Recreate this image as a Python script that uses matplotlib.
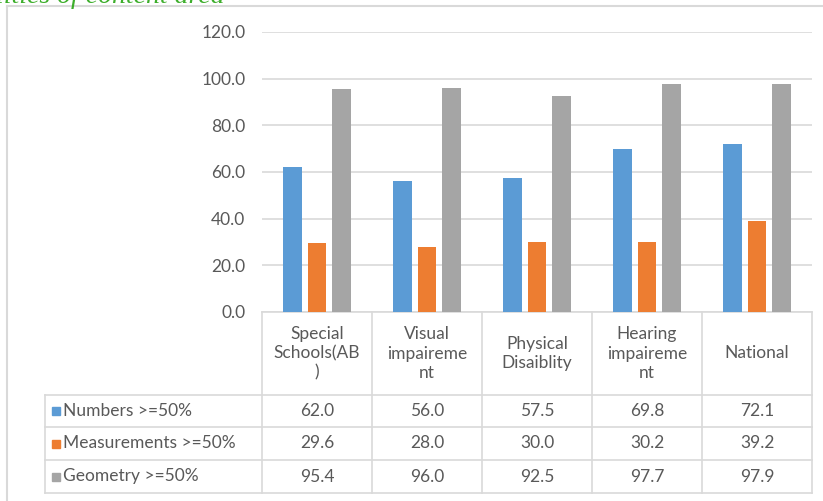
import numpy as np
import matplotlib.pyplot as plt
from matplotlib.lines import Line2D
from matplotlib.patches import Rectangle

# data
categories = ["Special Schools(AB)", "Visual impairement", "Physical Disaiblity",
              "Hearing impairement", "National"]
header_labels = ["Special\nSchools(AB\n)", "Visual\nimpaireme\nnt", "Physical\nDisaiblity",
                 "Hearing\nimpaireme\nnt", "National"]
series_names = ["Numbers >=50%", "Measurements >=50%", "Geometry >=50%"]
numbers = [62.0, 56.0, 57.5, 69.8, 72.1]
measurements = [29.6, 28.0, 30.0, 30.2, 39.2]
geometry = [95.4, 96.0, 92.5, 97.7, 97.9]
yticks = [0, 20, 40, 60, 80, 100, 120]

colors = ["#5B9BD5", "#ED7D31", "#A5A5A5"]
grid_col = "#D9D9D9"
text_col = "#595959"
font = "Lato"
fs = 12.5

W, H = 823, 501
fig = plt.figure(figsize=(W / 100, H / 100), dpi=100)

# plot area in pixels: x 262..812, y 32..312
left, right, top, bottom = 262, 812, 32, 312
ax = fig.add_axes([left / W, 1 - bottom / H, (right - left) / W, (bottom - top) / H])

x = np.arange(len(categories))
width = 0.17
offsets = [-0.225, 0, 0.225]
for vals, off, col, name in zip([numbers, measurements, geometry], offsets, colors, series_names):
    ax.bar(x + off, vals, width, color=col, label=name, zorder=3)

ax.set_xlim(-0.5, len(categories) - 0.5)
ax.set_ylim(0, 120)
ax.set_yticks(yticks)
ax.set_yticklabels([f"{v:.1f}" for v in yticks], fontsize=fs, color=text_col, family=font)
ax.tick_params(axis="y", length=0, pad=12)
ax.set_xticks([])
ax.grid(axis="y", color=grid_col, linewidth=1.2, zorder=0)
for s in ["top", "right", "left"]:
    ax.spines[s].set_visible(False)
ax.spines["bottom"].set_color(grid_col)
ax.spines["bottom"].set_linewidth(1.2)


# data table under the axis, positioned in axes fraction
def ay(py):
    return (bottom - py) / (bottom - top)


def axx(px):
    return (px - left) / (right - left)


tbl_left = axx(45)
header_bot = ay(395)
row_edges = [ay(395), ay(427), ay(460), ay(493)]
n = len(categories)

line_kw = dict(transform=ax.transAxes, color=grid_col, linewidth=1.2, clip_on=False)
# vertical column lines
for i in range(n + 1):
    ax.add_line(Line2D([i / n, i / n], [0, row_edges[-1]], **line_kw))
ax.add_line(Line2D([tbl_left, tbl_left], [header_bot, row_edges[-1]], **line_kw))
# horizontal row lines
for yy in row_edges:
    ax.add_line(Line2D([tbl_left, 1], [yy, yy], **line_kw))

# header cells
for i, lab in enumerate(header_labels):
    ax.text((i + 0.5) / n, (0 + header_bot) / 2, lab, transform=ax.transAxes,
            ha="center", va="center", fontsize=fs, color=text_col, family=font,
            linespacing=1.25)

# series rows with a small colour key in front of each name
sq = 8
for r, (name, vals, col) in enumerate(zip(series_names, [numbers, measurements, geometry], colors)):
    yc = (row_edges[r] + row_edges[r + 1]) / 2
    ax.add_patch(Rectangle((axx(52), yc - (sq / 2) / (bottom - top)), sq / (right - left),
                           sq / (bottom - top), transform=ax.transAxes, color=col,
                           clip_on=False))
    ax.text(axx(63), yc, name, transform=ax.transAxes, ha="left", va="center",
            fontsize=fs, color=text_col, family=font)
    for i, v in enumerate(vals):
        ax.text((i + 0.5) / n, yc, f"{v:.1f}", transform=ax.transAxes,
                ha="center", va="center", fontsize=fs, color=text_col, family=font)

# chart frame (left and top edges)
fig.add_artist(Line2D([7 / W, 7 / W], [0, 1 - 6 / H], transform=fig.transFigure,
                      color=grid_col, linewidth=1.5))
fig.add_artist(Line2D([7 / W, 1], [1 - 6 / H, 1 - 6 / H], transform=fig.transFigure,
                      color=grid_col, linewidth=1.5))

# caption text from the page above the chart
fig.text(-4 / W, 1 - 3 / H, "lities of content area", ha="left", va="baseline",
         fontsize=20, style="italic", family="Liberation Serif", color="#3DAE2B")

fig.savefig("out.png", dpi=100)
